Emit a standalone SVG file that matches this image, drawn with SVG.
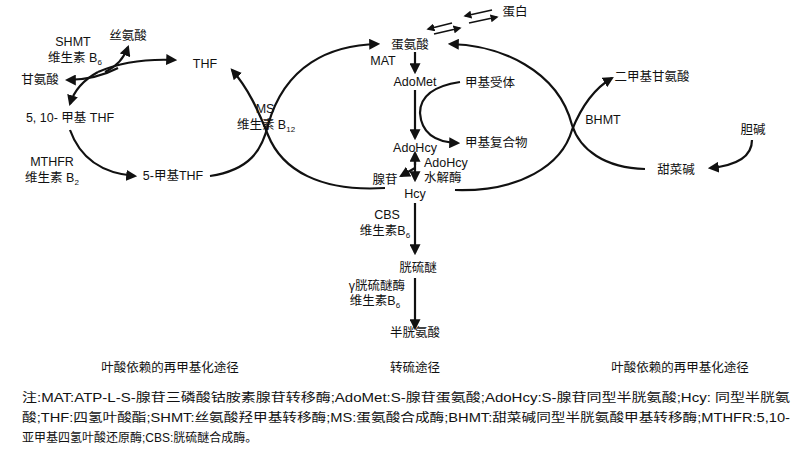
<svg xmlns="http://www.w3.org/2000/svg" width="800" height="459" viewBox="0 0 800 459">
<defs><marker id="a" viewBox="0 0 10 10" refX="8" refY="5" markerWidth="5" markerHeight="5" orient="auto"><path d="M0,0L10,5L0,10z" fill="#111"/></marker></defs>
<style>text{font-family:"Liberation Sans","Noto Sans CJK SC",sans-serif;font-size:12.5px;fill:#111}.c{text-anchor:middle}.s{font-size:8px}.l{fill:none;stroke:#111;stroke-width:2.2}.t{stroke-width:1.6}.n{font-size:12px}</style>
<rect width="800" height="459" fill="#fff"/>
<g id="connectors" class="l">
<path class="l" d="M98,72 Q130,58 175,60" marker-end="url(#a)"/>
<path class="l" d="M98,72 Q76,84 70,104" marker-end="url(#a)"/>
<path class="l" d="M118,68 Q95,80 67,80" marker-end="url(#a)"/>
<path class="l" d="M105,72 Q122,64 128,47" marker-end="url(#a)"/>
<path class="l" d="M70,130 Q85,172 135,176" marker-end="url(#a)"/>
<path class="l" d="M210,176 C250,170 262,150 268,125 C285,65 330,45 378,44" marker-end="url(#a)"/>
<path class="l" d="M385,188 C320,192 282,170 268,135 C258,110 248,88 232,70" marker-end="url(#a)"/>
<path class="l" d="M455,190 C520,192 562,165 572,130 C582,105 595,88 612,78" marker-end="url(#a)"/>
<path class="l" d="M645,169 C605,168 580,150 572,125 C558,70 500,45 450,44" marker-end="url(#a)"/>
<path class="l" d="M752,140 Q752,164 710,168" marker-end="url(#a)"/>
<path class="l t" d="M452,23 L428,29" marker-end="url(#a)"/>
<path class="l t" d="M434,34 L460,28" marker-end="url(#a)"/>
<path class="l t" d="M492,10 L465,16" marker-end="url(#a)"/>
<path class="l t" d="M469,23 L497,17" marker-end="url(#a)"/>
<path class="l" d="M415,52 L415,72" marker-end="url(#a)"/>
<path class="l" d="M415,90 L415,138" marker-end="url(#a)"/>
<path class="l" d="M460,82 Q420,88 420,113 Q422,142 458,143" marker-end="url(#a)"/>
<path class="l" d="M415,165 L415,153" marker-end="url(#a)"/>
<path class="l" d="M415,160 L415,180" marker-end="url(#a)"/>
<path class="l" d="M415,168 L401,176" marker-end="url(#a)"/>
<path class="l" d="M415,203 L415,253" marker-end="url(#a)"/>
<path class="l" d="M415,278 L415,328" marker-end="url(#a)"/>
</g>
<g id="folate">
<text x="128" y="40" class="c">丝氨酸</text>
<text x="73" y="46" class="c">SHMT</text>
<text x="75" y="62" class="c">维生素 B<tspan class="s" dy="3">6</tspan></text>
<text x="40" y="84" class="c">甘氨酸</text>
<text x="205" y="68" class="c">THF</text>
<text x="70" y="122" class="c">5, 10- 甲基 THF</text>
<text x="52" y="166" class="c">MTHFR</text>
<text x="52" y="182" class="c">维生素 B<tspan class="s" dy="3">2</tspan></text>
<text x="173" y="180" class="c">5-甲基THF</text>
<text x="265" y="113" class="c">MS</text>
<text x="266" y="129" class="c">维生素 B<tspan class="s" dy="3">12</tspan></text>
</g>
<g id="methionine">
<text x="515" y="16" class="c">蛋白</text>
<text x="410" y="49" class="c">蛋氨酸</text>
<text x="383" y="65" class="c">MAT</text>
<text x="415" y="86" class="c">AdoMet</text>
<text x="465" y="87">甲基受体</text>
<text x="465" y="147">甲基复合物</text>
<text x="415" y="152" class="c">AdoHcy</text>
<text x="424" y="167">AdoHcy</text>
<text x="424" y="182">水解酶</text>
<text x="385" y="184" class="c">腺苷</text>
<text x="415" y="198" class="c">Hcy</text>
<text x="387" y="219" class="c">CBS</text>
<text x="385" y="235" class="c">维生素B<tspan class="s" dy="3">6</tspan></text>
<text x="418" y="272" class="c">胱硫醚</text>
<text x="377" y="290" class="c">γ胱硫醚酶</text>
<text x="375" y="305" class="c">维生素B<tspan class="s" dy="3">6</tspan></text>
<text x="415" y="337" class="c">半胱氨酸</text>
</g>
<g id="betaine">
<text x="652" y="81" class="c">二甲基甘氨酸</text>
<text x="603" y="124" class="c">BHMT</text>
<text x="753" y="134" class="c">胆碱</text>
<text x="676" y="174" class="c">甜菜碱</text>
</g>
<g id="captions">
<text x="170" y="372" class="c">叶酸依赖的再甲基化途径</text>
<text x="415" y="372" class="c">转硫途径</text>
<text x="680" y="372" class="c">叶酸依赖的再甲基化途径</text>
<text x="22" y="402" class="n" textLength="768" lengthAdjust="spacingAndGlyphs">注:MAT:ATP-L-S-腺苷三磷酸钴胺素腺苷转移酶;AdoMet:S-腺苷蛋氨酸;AdoHcy:S-腺苷同型半胱氨酸;Hcy: 同型半胱氨</text>
<text x="22" y="422" class="n" textLength="768" lengthAdjust="spacingAndGlyphs">酸;THF:四氢叶酸酯;SHMT:丝氨酸羟甲基转移酶;MS:蛋氨酸合成酶;BHMT:甜菜碱同型半胱氨酸甲基转移酶;MTHFR:5,10-</text>
<text x="22" y="442" class="n">亚甲基四氢叶酸还原酶;CBS:胱硫醚合成酶。</text>
</g>
</svg>
